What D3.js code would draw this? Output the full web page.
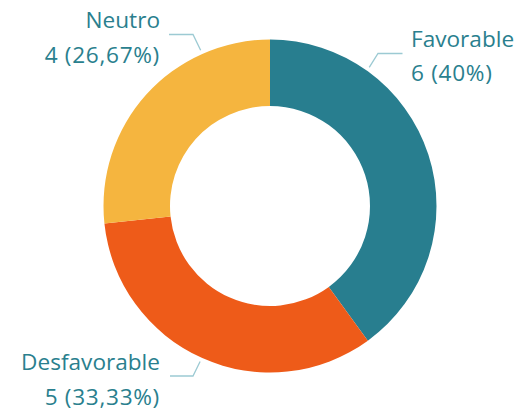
<!DOCTYPE html>
<html>
<head>
<meta charset="utf-8">
<script src="https://cdn.jsdelivr.net/npm/d3@7"></script>
<style>
  html, body { margin: 0; padding: 0; background: #fff; }
  svg { display: block; }
  text { font-family: "Open Sans", sans-serif; }
</style>
</head>
<body>
<div id="vis"></div>
<script>
// chart values
var categories = ["Favorable", "Desfavorable", "Neutro"];
var values = [6, 5, 4];
var pctLabels = ["40%", "33,33%", "26,67%"];
var colors = ["#287e8f", "#ee5b19", "#f5b53f"];

var width = 517, height = 410;
var cx = 270, cy = 206;
var outerR = 166.5, innerR = 100;

// label placement (leader angle in degrees from top, elbow + text spot)
var labelLayout = [
    {angle: 35.6, elbow: [378, 53.5], end: [402.5, 53.5], tx: 411, ty: 46.5, anchor: "start"},
    {angle: 204.2, elbow: [193, 376], end: [170, 376], tx: 160, ty: 370, anchor: "end"},
    {angle: 336, elbow: [193, 34.5], end: [169, 34.5], tx: 160, ty: 28, anchor: "end"}
];

var svg = d3.select("#vis")
    .append("svg")
    .attr("width", width)
    .attr("height", height);

var data = categories.map(function (c, i) {
    return {label: c, value: values[i], pct: pctLabels[i], color: colors[i], layout: labelLayout[i]};
});

var pie = d3.pie()
    .sort(null)
    .value(function (d) { return d.value; });

var arc = d3.arc()
    .innerRadius(innerR)
    .outerRadius(outerR);

var g = svg.append("g")
    .attr("transform", "translate(" + cx + "," + cy + ")");

g.selectAll("path")
    .data(pie(data))
    .enter().append("path")
    .attr("d", arc)
    .attr("fill", function (d) { return d.data.color; });

// leader lines
var leaderR = outerR + 4;
svg.selectAll("polyline.leader")
    .data(data)
    .enter().append("polyline")
    .attr("class", "leader")
    .attr("fill", "none")
    .attr("stroke", "#9ccad3")
    .attr("stroke-width", 1.3)
    .attr("points", function (d) {
        var a = d.layout.angle * Math.PI / 180;
        var sx = cx + leaderR * Math.sin(a);
        var sy = cy - leaderR * Math.cos(a);
        return [[sx, sy], d.layout.elbow, d.layout.end].map(function (p) { return p.join(","); }).join(" ");
    });

// labels
var labels = svg.selectAll("text.lbl")
    .data(data)
    .enter().append("text")
    .attr("class", "lbl")
    .attr("fill", "#2a7f8e")
    .attr("font-size", 22.6)
    .attr("text-anchor", function (d) { return d.layout.anchor; });

labels.append("tspan")
    .attr("x", function (d) { return d.layout.tx; })
    .attr("y", function (d) { return d.layout.ty; })
    .text(function (d) { return d.label; });

labels.append("tspan")
    .attr("x", function (d) { return d.layout.tx; })
    .attr("y", function (d) { return d.layout.ty + 34.5; })
    .attr("letter-spacing", 0.7)
    .text(function (d) { return d.value + " (" + d.pct + ")"; });
</script>
</body>
</html>
